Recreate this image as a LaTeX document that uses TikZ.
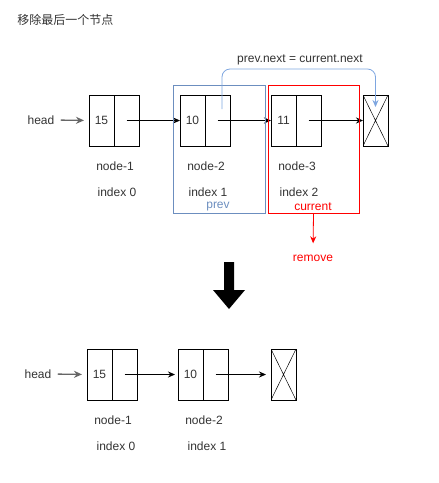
\documentclass[tikz,border=0pt]{standalone}
\usepackage{fontspec}
\setmainfont{Liberation Sans}
\newfontfamily\cjk{Noto Sans CJK SC}
\usetikzlibrary{arrows.meta, positioning}
\definecolor{prevblue}{HTML}{6C8EBF}
\definecolor{linkblue}{HTML}{7EA6E0}
\definecolor{txt}{HTML}{333333}

\begin{document}
\begin{tikzpicture}[x=1pt, y=-1pt, font=\fontsize{12}{14}\selectfont, line width=0.8pt,
  c/.style={draw, minimum width=25pt, minimum height=51pt, inner sep=0pt, outer sep=0pt, text=txt},
  nil/.style={c, path picture={\draw[line width=0.5pt] (path picture bounding box.north west) -- (path picture bounding box.south east) (path picture bounding box.north east) -- (path picture bounding box.south west);}},
  t/.style={text=txt, inner sep=0pt},
  a/.style={-{Stealth[length=7pt,width=6pt]}},
  hd/.style={-{Stealth[length=8pt,width=7pt]}, line width=1.3pt, gray!80!black},
  node distance=0pt]
  \useasboundingbox (0,0) rectangle (439,483);

  \node[t, anchor=west] (title) at (17,20) {\cjk 移除最后一个节点};

  % before
  \node[c] (a1) at (101.5,120.5) {15};
  \node[c, right=of a1] (a1p) {};
  \node[c] (a2) at (192.5,120.5) {10};
  \node[c, right=of a2] (a2p) {};
  \node[c] (a3) at (283.5,120.5) {11};
  \node[c, right=of a3] (a3p) {};
  \node[nil] (nil1) at (375.5,120.5) {};

  \node[t] (head1) at (41,120) {head};
  \draw[hd, shorten >=5pt, shorten <=6pt] (head1.east) -- (a1.west);
  \draw[a] (a1p.center) -- (a2.west);
  \draw[a] (a2p.center) -- (a3.west);
  \draw[a] (a3p.center) -- (nil1.west);

  \node[t] (n1) at ([xshift=1pt,yshift=-20pt]a1p.south west) {node-1};
  \node[t] (i1) at ([xshift=3pt,yshift=-46pt]a1p.south west) {index 0};
  \node[t] (n2) at ([xshift=1pt,yshift=-20pt]a2p.south west) {node-2};
  \node[t] (i2) at ([xshift=3pt,yshift=-46pt]a2p.south west) {index 1};
  \node[t] (n3) at ([xshift=1pt,yshift=-20pt]a3p.south west) {node-3};
  \node[t] (i3) at ([xshift=3pt,yshift=-46pt]a3p.south west) {index 2};

  \node[draw=prevblue, minimum width=92pt, minimum height=128pt] (prev) at (219,149) {};
  \node[draw=red, minimum width=91pt, minimum height=128pt] (cur) at (313.5,149) {};
  \node[t, text=prevblue] (prevtxt) at (218,207) {prev};
  \node[t, text=red] (curtxt) at (313,207) {current};

  \coordinate (p0) at ([xshift=4.5pt,yshift=11.5pt]a2p.center);
  \coordinate (p1) at ([yshift=-12pt]nil1.north);
  \draw[a, linkblue, rounded corners=8pt] (p0) -- ++(0,-40) -| (p1);
  \node[t] (nxt) at (300,60) {prev.next = current.next};

  \node[t, text=red] (rm) at (313,258) {remove};
  \draw[a, red, shorten >=11pt] (cur.south) -- (rm.north);

  \fill (224,262) -- (234,262) -- (234,290) -- (245,290) -- (229,309) -- (213,290) -- (224,290) -- cycle;

  % after
  \node[c] (b1) at (99.5,374.5) {15};
  \node[c, right=of b1] (b1p) {};
  \node[c] (b2) at (190.5,374.5) {10};
  \node[c, right=of b2] (b2p) {};
  \node[nil] (nil2) at (283.5,374.5) {};

  \node[t] (head2) at (38,374) {head};
  \draw[hd, shorten >=5pt, shorten <=6pt] (head2.east) -- (b1.west);
  \draw[a, shorten >=3pt] (b1p.center) -- (b2.west);
  \draw[a, shorten >=5pt] (b2p.center) -- (nil2.west);

  \node[t] (m1) at ([xshift=1pt,yshift=-20pt]b1p.south west) {node-1};
  \node[t] (j1) at ([xshift=4pt,yshift=-46pt]b1p.south west) {index 0};
  \node[t] (m2) at ([xshift=1pt,yshift=-20pt]b2p.south west) {node-2};
  \node[t] (j2) at ([xshift=4pt,yshift=-46pt]b2p.south west) {index 1};
\end{tikzpicture}
\end{document}
